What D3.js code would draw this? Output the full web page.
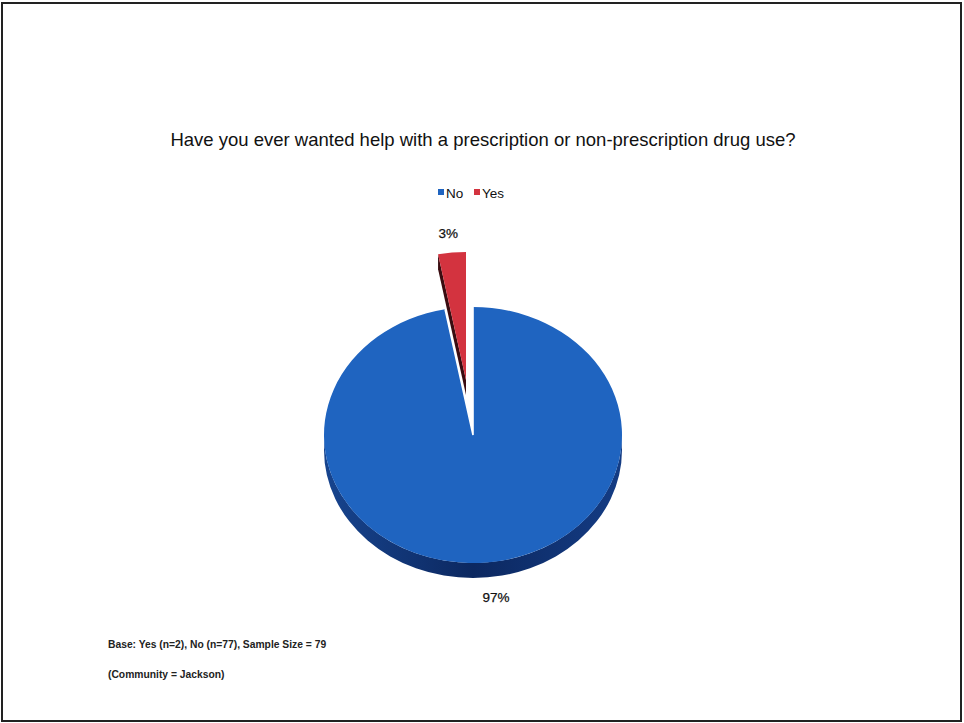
<!DOCTYPE html>
<html>
<head>
<meta charset="utf-8">
<script src="https://cdn.jsdelivr.net/npm/d3@7/dist/d3.min.js"></script>
<style>
  html, body { margin: 0; padding: 0; background: #fff; }
  svg { display: block; font-family: "Liberation Sans", Arial, sans-serif; }
</style>
</head>
<body>
<svg id="chart" width="964" height="723"></svg>
<script>
// ---- data ----
const categories = ["No", "Yes"];
const percentValues = [97, 3];
const counts = [77, 2];
const percentLabels = ["97%", "3%"];
const titleText = "Have you ever wanted help with a prescription or non-prescription drug use?";
const footnotes = ["Base: Yes (n=2), No (n=77), Sample Size = 79", "(Community = Jackson)"];

// ---- styling / layout ----
const topColors = ["#1F64C0", "#D3333F"];
const sideColors = ["#12387C", "#3A0C10"];
const cx = 473, cy = 435, rx = 149, ry = 128, depth = 15;
const explode = [[0, 0], [-7, -55]];

const svg = d3.select("#chart");
const defs = svg.append("defs");
const g1 = defs.append("linearGradient").attr("id", "sideNo").attr("x1", "0").attr("x2", "1").attr("y1", "0").attr("y2", "0");
g1.append("stop").attr("offset", "0").attr("stop-color", "#17448E");
g1.append("stop").attr("offset", "0.5").attr("stop-color", "#0C2860");
g1.append("stop").attr("offset", "1").attr("stop-color", "#143C84");

// frame
svg.append("rect").attr("x", 2).attr("y", 3).attr("width", 959).attr("height", 718)
  .attr("fill", "#fff").attr("stroke", "#222").attr("stroke-width", 2);

// title
svg.append("text").attr("x", 483).attr("y", 146).attr("text-anchor", "middle")
  .attr("font-size", 18.5).attr("fill", "#111").text(titleText);

// legend
const legend = svg.append("g").attr("transform", "translate(438,193)");
const legX = [0, 36];
categories.forEach((c, i) => {
  legend.append("rect").attr("x", legX[i]).attr("y", -4).attr("width", 6).attr("height", 6).attr("fill", topColors[i]);
  legend.append("text").attr("x", legX[i] + 8).attr("y", 4.5).attr("font-size", 13.5).attr("fill", "#111").text(c);
});

// pie angles via d3.pie (clockwise from 12 o'clock)
const pie = d3.pie().sort(null).value(d => d);
const arcs = pie(percentValues);

const px = (a, o) => cx + o[0] + rx * Math.sin(a);
const py = (a, o) => cy + o[1] - ry * Math.cos(a);

function topPath(a0, a1, o) {
  const large = (a1 - a0) > Math.PI ? 1 : 0;
  return `M${cx + o[0]},${cy + o[1]} L${px(a0, o)},${py(a0, o)} A${rx},${ry} 0 ${large} 1 ${px(a1, o)},${py(a1, o)} Z`;
}
function wallPath(a0, a1, o) {
  const s = Math.max(a0, Math.PI / 2), e = Math.min(a1, 3 * Math.PI / 2);
  if (e <= s) return null;
  const large = (e - s) > Math.PI ? 1 : 0;
  return `M${px(s, o)},${py(s, o)} A${rx},${ry} 0 ${large} 1 ${px(e, o)},${py(e, o)} ` +
         `L${px(e, o)},${py(e, o) + depth} A${rx},${ry} 0 ${large} 0 ${px(s, o)},${py(s, o) + depth} Z`;
}
function cutFace(a, o) {
  return `M${cx + o[0]},${cy + o[1]} L${px(a, o)},${py(a, o)} L${px(a, o)},${py(a, o) + depth} L${cx + o[0]},${cy + o[1] + depth} Z`;
}

const pieG = svg.append("g");
// draw Yes (back) first
[1, 0].forEach(i => {
  const d = arcs[i], o = explode[i];
  const grp = pieG.append("g");
  if (Math.cos(d.startAngle - Math.PI / 2) < 0 && (d.endAngle - d.startAngle) < Math.PI) {
    grp.append("path").attr("d", cutFace(d.startAngle, o)).attr("fill", sideColors[i]);
  }
  const w = wallPath(d.startAngle, d.endAngle, o);
  if (w) grp.append("path").attr("d", w).attr("fill", i === 0 ? "url(#sideNo)" : sideColors[i]);
  grp.append("path").attr("d", topPath(d.startAngle, d.endAngle, o)).attr("fill", topColors[i]);
  if (i === 0) {
    // white separation along the radial edges of the No slice
    grp.append("path")
      .attr("d", `M${px(d.endAngle, o)},${py(d.endAngle, o)} L${cx + o[0]},${cy + o[1]} L${px(d.startAngle, o)},${py(d.startAngle, o)}`)
      .attr("fill", "none").attr("stroke", "#fff").attr("stroke-width", 1.6);
  }
});

// data labels
arcs.forEach((d, i) => {
  const mid = (d.startAngle + d.endAngle) / 2;
  const o = explode[i];
  let x, y;
  if (i === 0) { x = cx + o[0] + Math.sin(mid) * (rx + 95); y = cy + o[1] - Math.cos(mid) * (ry + 20) + depth + 5; }
  else { x = cx + o[0] + Math.sin(mid) * (rx + 40); y = cy + o[1] - Math.cos(mid) * (ry + 15); }
  svg.append("text").attr("x", x).attr("y", y).attr("text-anchor", "middle")
    .attr("font-size", 13.5).attr("fill", "#111").attr("stroke", "#111").attr("stroke-width", 0.25)
    .text(percentLabels[i]);
});

// footnotes
svg.append("text").attr("x", 108).attr("y", 648).attr("font-size", 10.3).attr("font-weight", "bold")
  .attr("fill", "#222").text(footnotes[0]);
svg.append("text").attr("x", 108).attr("y", 678).attr("font-size", 10.3).attr("font-weight", "bold")
  .attr("fill", "#222").text(footnotes[1]);
</script>
</body>
</html>
